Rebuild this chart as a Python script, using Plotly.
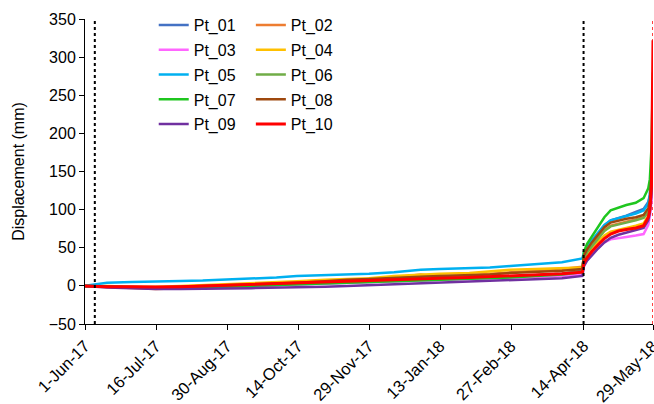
import plotly.graph_objects as go

dates = ["2017-06-01", "2017-06-15", "2017-07-01", "2017-07-16", "2017-08-01", "2017-08-15",
         "2017-08-30", "2017-09-15", "2017-10-01", "2017-10-14", "2017-11-01", "2017-11-15",
         "2017-11-29", "2017-12-15", "2018-01-01", "2018-01-13", "2018-02-01", "2018-02-14",
         "2018-02-27", "2018-03-15", "2018-04-01", "2018-04-14", "2018-04-15", "2018-04-17",
         "2018-04-20", "2018-04-24", "2018-04-28", "2018-05-02", "2018-05-07", "2018-05-12",
         "2018-05-18", "2018-05-23", "2018-05-26", "2018-05-27", "2018-05-28", "2018-05-29"]

pt_01 = [0, -1, -2, -2, -2, -1.5, -1, 0, 1, 2, 3, 4, 5, 6, 7, 8, 10, 11, 12, 14, 16, 20,
         40, 48, 57, 68, 79, 86, 89, 92, 97, 101, 110, 120, 150, 210]
pt_02 = [0, -1, -3, -4, -3, -3, -2, -1, 1, 3, 5, 7, 9, 11, 15, 12, 14, 16, 18, 20, 22, 25,
         38, 46, 54, 64, 73, 79, 82, 84, 87, 90, 98, 108, 140, 190]
pt_03 = [0, -1, -2, -2.5, -2, -2, -1, 0, 1, 2, 3, 4, 5, 6, 7, 8, 9, 10, 11, 12, 13, 15,
         28, 34, 42, 50, 57, 61, 63, 64, 66, 68, 80, 92, 110, 150]
pt_04 = [0, 0, -1, -1, 0, 1, 2, 3, 5, 6, 8, 9, 10, 13, 15, 16, 17, 19, 21, 22, 23, 24,
         36, 42, 50, 58, 66, 71, 74, 76, 79, 82, 92, 102, 130, 170]
pt_05 = [0, 4, 5, 6, 6.5, 7, 8, 9, 11, 13, 14, 15, 16, 18, 21, 22, 23, 24, 26, 28, 31, 36,
         44, 52, 60, 70, 80, 86, 89, 91, 95, 99, 108, 118, 150, 230]
pt_06 = [0, -1, -2, -2, -2, -1, 0, 1, 2, 3, 4, 5, 6, 7, 8, 9, 10, 11, 12, 14, 16, 19,
         36, 44, 52, 62, 72, 78, 81, 83, 86, 89, 97, 106, 140, 200]
pt_07 = [0, -1, -2, -2, -2, -1.5, -1, 0, 1, 2, 3, 4, 5, 6, 7, 8, 9, 10, 11, 13, 15, 18,
         45, 55, 65, 78, 90, 99, 103, 106, 109, 115, 128, 140, 180, 280]
pt_08 = [0, -1, -1.5, -2, -1, 0, 1, 2, 3, 4, 6, 8, 9, 10, 12, 13, 14, 15, 17, 18, 20, 22,
         40, 48, 57, 67, 77, 83, 86, 88, 90, 93, 102, 112, 145, 220]
pt_09 = [0, -2, -3, -4, -4, -4, -3.5, -3, -2.5, -2, -1, 0, 1, 2, 3, 4, 5, 6, 7, 8, 10, 13,
         26, 33, 40, 49, 57, 63, 67, 70, 73, 76, 86, 96, 120, 160]
pt_10 = [0, -1, -1, -1.5, -1, 0, 1, 2, 3, 4, 5, 6, 7, 8, 9, 10, 11, 12, 13, 14, 16, 18,
         30, 37, 45, 54, 62, 68, 72, 74, 76, 79, 90, 100, 130, 322]

series_names = ["Pt_01", "Pt_02", "Pt_03", "Pt_04", "Pt_05", "Pt_06", "Pt_07", "Pt_08", "Pt_09", "Pt_10"]
series_values = [pt_01, pt_02, pt_03, pt_04, pt_05, pt_06, pt_07, pt_08, pt_09, pt_10]
colors = ["#4472C4", "#ED7D31", "#FF66FF", "#FFC000", "#00B0F0", "#70AD47", "#1FC61F",
          "#9E480E", "#7030A0", "#FF0000"]

tick_vals = ["2017-06-01", "2017-07-16 06:00", "2017-08-30 12:00", "2017-10-14 18:00",
             "2017-11-29", "2018-01-13 06:00", "2018-02-27 12:00", "2018-04-14 18:00", "2018-05-29"]
tick_text = ["1-Jun-17", "16-Jul-17", "30-Aug-17", "14-Oct-17", "29-Nov-17", "13-Jan-18",
             "27-Feb-18", "14-Apr-18", "29-May-18"]

event_lines = ["2017-06-07 06:00", "2018-04-14 18:00"]
end_line = "2018-05-29"

fig = go.Figure()
for i, (name, vals, col) in enumerate(zip(series_names, series_values, colors)):
    fig.add_trace(go.Scatter(
        x=dates, y=vals, mode="lines", name=name,
        line=dict(color=col, width=3 if name == "Pt_10" else 2.5),
        legend="legend" if i % 2 == 0 else "legend2",
        legendgroup=name,
    ))

for xv in event_lines:
    fig.add_shape(type="line", x0=xv, x1=xv, y0=0, y1=1, xref="x", yref="paper",
                  line=dict(color="black", width=2, dash="dot"), layer="above")
fig.add_shape(type="line", x0=end_line, x1=end_line, y0=0, y1=1, xref="x", yref="paper",
              line=dict(color="#FF0000", width=1.5, dash="dot"), layer="below")

font = "Liberation Sans, Arial, sans-serif"
legend_common = dict(
    font=dict(family=font, size=16, color="black"),
    bgcolor="rgba(0,0,0,0)", borderwidth=0,
    orientation="v", xanchor="left", yanchor="top",
    tracegroupgap=1, itemwidth=30,
)
fig.update_layout(
    width=654, height=404,
    margin=dict(l=85, r=1, t=19, b=80, autoexpand=False),
    paper_bgcolor="white", plot_bgcolor="white",
    font=dict(family=font, size=16, color="black"),
    showlegend=True,
    legend=dict(x=0.121, y=1.036, **legend_common),
    legend2=dict(x=0.292, y=1.036, **legend_common),
    xaxis=dict(
        type="date",
        range=["2017-06-01", "2018-05-29"],
        tickvals=tick_vals, ticktext=tick_text,
        tickangle=-45,
        ticklabeloverflow="allow",
        automargin=False,
        showgrid=False, zeroline=False,
        showline=True, linecolor="black", linewidth=1,
        ticks="outside", ticklen=5, tickcolor="black",
        tickfont=dict(family=font, size=16.5, color="black"),
    ),
    yaxis=dict(
        range=[-50, 350], tickvals=[-50, 0, 50, 100, 150, 200, 250, 300, 350],
        automargin=False,
        showgrid=False, zeroline=False,
        showline=True, linecolor="black", linewidth=1,
        ticks="outside", ticklen=5, tickcolor="black",
        tickfont=dict(family=font, size=16, color="black"),
        title=dict(text="Displacement (mm)", font=dict(family=font, size=16, color="black"), standoff=20),
    ),
)

fig.write_html("out.html")
